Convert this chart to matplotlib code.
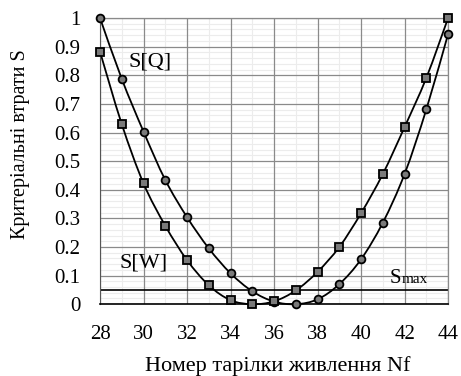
import matplotlib
matplotlib.use("Agg")
import matplotlib.pyplot as plt
import numpy as np
from matplotlib.path import Path
from matplotlib.patches import PathPatch
from matplotlib.ticker import MultipleLocator

plates = [28, 29, 30, 31, 32, 33, 34, 35, 36, 37, 38, 39, 40, 41, 42, 43, 44]
s_q = [1.0, 0.787, 0.603, 0.434, 0.304, 0.195, 0.108, 0.045, 0.009, 0.0,
       0.017, 0.07, 0.157, 0.285, 0.455, 0.681, 0.944]
s_w = [0.882, 0.629, 0.422, 0.274, 0.154, 0.066, 0.014, 0.0, 0.01, 0.048,
       0.113, 0.2, 0.318, 0.455, 0.619, 0.791, 1.0]
s_max = 0.05
x_ticks = [28, 30, 32, 34, 36, 38, 40, 42, 44]
y_ticks = [0, 0.1, 0.2, 0.3, 0.4, 0.5, 0.6, 0.7, 0.8, 0.9, 1]
y_tick_labels = ["0", "0.1", "0.2", "0.3", "0.4", "0.5", "0.6", "0.7", "0.8", "0.9", "1"]

plt.rcParams["font.family"] = ["Liberation Serif", "DejaVu Serif"]


def smooth_path(xs, ys):
    # Excel-style smoothed line: cubic Bezier segments through the points
    pts = np.column_stack([xs, ys]).astype(float)
    n = len(pts)
    verts = [pts[0]]
    codes = [Path.MOVETO]
    for i in range(n - 1):
        p0 = pts[i - 1] if i > 0 else pts[i]
        p3 = pts[i + 2] if i + 2 < n else pts[i + 1]
        c1 = pts[i] + (pts[i + 1] - p0) / 6.0
        c2 = pts[i + 1] - (p3 - pts[i]) / 6.0
        verts += [c1, c2, pts[i + 1]]
        codes += [Path.CURVE4] * 3
    return Path(verts, codes)


fig = plt.figure(figsize=(4.61, 3.76), dpi=100)
ax = fig.add_axes([0.217, 0.191, 0.755, 0.761])

ax.set_xlim(28, 44)
ax.set_ylim(0, 1)
ax.set_xticks(x_ticks)
ax.set_yticks(y_ticks)
ax.set_yticklabels(y_tick_labels)
ax.xaxis.set_minor_locator(MultipleLocator(1))
ax.yaxis.set_minor_locator(MultipleLocator(0.02))

# light minor grid underneath, darker major grid on top of it
ax.vlines(ax.xaxis.get_minorticklocs(), 0, 1, color="#ececec", linewidth=0.8, zorder=0.2)
ax.hlines(ax.yaxis.get_minorticklocs(), 28, 44, color="#ececec", linewidth=0.8, zorder=0.2)
ax.grid(which="major", color="#8a8a8a", linewidth=0.9)
ax.set_axisbelow(True)

ax.tick_params(which="both", length=0, labelsize=15)
ax.tick_params(axis="x", pad=15)
ax.tick_params(axis="y", pad=14)

for side in ["top", "right"]:
    ax.spines[side].set_color("#8a8a8a")
    ax.spines[side].set_linewidth(0.9)
ax.spines["left"].set_color("#555555")
ax.spines["bottom"].set_color("black")
ax.spines["bottom"].set_linewidth(1.2)

ax.axhline(s_max, color="black", linewidth=1.2)

for ys in (s_q, s_w):
    ax.add_patch(PathPatch(smooth_path(plates, ys), fill=False,
                           edgecolor="black", linewidth=1.3, clip_on=False))

ax.plot(plates, s_q, linestyle="none", marker="o", markersize=5.6,
        markerfacecolor="#7a7a7a", markeredgecolor="black", markeredgewidth=1.3,
        clip_on=False, zorder=4)
ax.plot(plates, s_w, linestyle="none", marker="s", markersize=5.2,
        markerfacecolor="#7a7a7a", markeredgecolor="black", markeredgewidth=1.3,
        clip_on=False, zorder=4)

ax.text(30.3, 0.845, "S[Q]", fontsize=16, ha="center", va="center")
ax.text(30.0, 0.145, "S[W]", fontsize=16, ha="center", va="center")
ax.text(41.3, 0.073, "S", fontsize=15, ha="left", va="baseline")
ax.text(41.85, 0.073, "max", fontsize=11, ha="left", va="baseline")

ax.set_xlabel("Номер тарілки живлення Nf", fontsize=16)
ax.xaxis.set_label_coords(0.51, -0.18)
ax.set_ylabel("Критеріальні втрати S", fontsize=14.5)
ax.yaxis.set_label_coords(-0.2, 0.56)

fig.savefig("out.png", dpi=100)
